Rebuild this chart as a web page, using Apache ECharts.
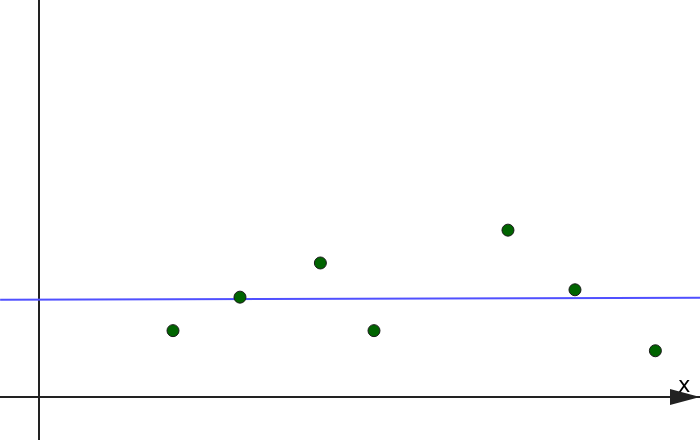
<!DOCTYPE html>
<html>
<head>
<meta charset="utf-8">
<script src="https://cdn.jsdelivr.net/npm/echarts@6/dist/echarts.min.js"></script>
<style>html,body{margin:0;padding:0;background:#fff}#c{width:700px;height:440px}</style>
</head>
<body>
<div id="c"></div>
<script>
// Data
const pointX = [2, 3, 4.2, 5, 7, 8, 9.2];
const pointY = [0.99, 1.49, 2, 0.99, 2.49, 1.6, 0.69];
const lineX = [-0.58, 9.87];
const lineY = [1.45, 1.48];
const xAxisName = 'x';

const chart = echarts.init(document.getElementById('c'));
chart.setOption({
  animation: false,
  backgroundColor: '#ffffff',
  grid: { left: 0, right: 0, top: 0, bottom: 0, containLabel: false },
  xAxis: {
    type: 'value', min: -0.582, max: 9.866,
    name: xAxisName, nameLocation: 'end', nameGap: -22,
    nameTextStyle: { fontFamily: 'DejaVu Sans', fontSize: 21, color: '#000', verticalAlign: 'bottom', padding: [0, 0, 0, 0] },
    axisLine: { show: true, onZero: true, symbol: ['none', 'triangle'], symbolSize: [16, 30], symbolOffset: [0, -15], lineStyle: { color: '#222', width: 2 } },
    axisTick: { show: false }, axisLabel: { show: false }, splitLine: { show: false }
  },
  yAxis: {
    type: 'value', min: -0.642, max: 5.925,
    axisLine: { show: true, onZero: true, lineStyle: { color: '#222', width: 2 } },
    axisTick: { show: false }, axisLabel: { show: false }, splitLine: { show: false }
  },
  series: [
    {
      type: 'line', data: lineX.map((x, i) => [x, lineY[i]]), symbol: 'none',
      lineStyle: { color: '#5050ff', width: 2 }, z: 2
    },
    {
      type: 'scatter', data: pointX.map((x, i) => [x, pointY[i]]), symbolSize: 12,
      itemStyle: { color: '#006400', borderColor: '#1a1a1a', borderWidth: 1, opacity: 1 }, z: 3
    }
  ]
});
</script>
</body>
</html>
